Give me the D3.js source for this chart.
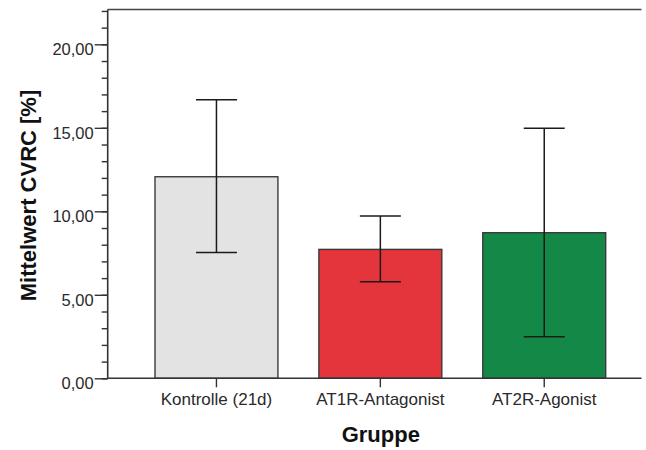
<!DOCTYPE html>
<html>
<head>
<meta charset="utf-8">
<script src="https://cdn.jsdelivr.net/npm/d3@7"></script>
<style>
  html, body { margin: 0; padding: 0; background: #fff; }
  svg { display: block; font-family: "Liberation Sans", Arial, sans-serif; }
</style>
</head>
<body>
<svg id="chart" width="646" height="450"></svg>
<script>
// Group means of CVRC [%] with error-bar limits
const categories = ["Kontrolle (21d)", "AT1R-Antagonist", "AT2R-Agonist"];
const means = [12.07, 7.72, 8.72];
const lower = [7.54, 5.78, 2.49];
const upper = [16.68, 9.72, 14.97];
const colors = ["#e3e3e3", "#e4343c", "#138847"];
const majorTicks = [0, 5, 10, 15, 20];
const minorTicks = d3.range(0, 23, 1);

const svg = d3.select("#chart");

const plotLeft = 107.7, plotRight = 641.5, plotTop = 9.6, plotBottom = 378.3;

const y = d3.scaleLinear().domain([0, 22.08]).range([plotBottom, plotTop]);
const x = d3.scaleBand()
  .domain(categories)
  .range([155, 605.7])
  .paddingInner(0.25)
  .paddingOuter(0);

const fmt = v => d3.format(".2f")(v).replace(".", ",");

// plot frame top edge
svg.append("line")
  .attr("x1", plotLeft).attr("x2", plotRight).attr("y1", plotTop).attr("y2", plotTop)
  .attr("stroke", "#444").attr("stroke-width", 1.5);

// bars
const data = categories.map((c, i) => ({ c, m: means[i], lo: lower[i], hi: upper[i], col: colors[i] }));
svg.append("g").selectAll("rect").data(data).join("rect")
  .attr("x", d => x(d.c))
  .attr("width", x.bandwidth())
  .attr("y", d => y(d.m))
  .attr("height", d => y(0) - y(d.m))
  .attr("fill", d => d.col)
  .attr("stroke", "#3a3a3a")
  .attr("stroke-width", 1.4);

// error bars
const capHalf = x.bandwidth() / 6;
const eb = svg.append("g").attr("stroke", "#1a1a1a").attr("stroke-width", 1.5);
data.forEach(d => {
  const cx = x(d.c) + x.bandwidth() / 2;
  eb.append("line").attr("x1", cx).attr("x2", cx).attr("y1", y(d.hi)).attr("y2", y(d.lo));
  eb.append("line").attr("x1", cx - capHalf).attr("x2", cx + capHalf).attr("y1", y(d.hi)).attr("y2", y(d.hi));
  eb.append("line").attr("x1", cx - capHalf).attr("x2", cx + capHalf).attr("y1", y(d.lo)).attr("y2", y(d.lo));
});

// y axis: minor ticks
const yMinor = svg.append("g").attr("transform", `translate(${plotLeft},0)`)
  .call(d3.axisLeft(y).tickValues(minorTicks).tickSize(6).tickFormat(""));
yMinor.select(".domain").remove();
yMinor.selectAll(".tick line").attr("stroke", "#333").attr("stroke-width", 1.4);

// y axis: major ticks with labels
const yAxis = svg.append("g").attr("transform", `translate(${plotLeft},0)`)
  .call(d3.axisLeft(y).tickValues(majorTicks).tickSize(13).tickPadding(1).tickFormat(fmt));
yAxis.select(".domain").attr("stroke", "#333").attr("stroke-width", 1.6)
  .attr("d", `M0,${plotBottom}V${plotTop}`);
yAxis.selectAll(".tick line").attr("stroke", "#333").attr("stroke-width", 1.4);
yAxis.selectAll(".tick text")
  .attr("font-size", "16.5px")
  .attr("fill", "#2a2a2a")
  .attr("dy", "0.62em")
  .style("font-family", "'Liberation Sans', Arial, sans-serif");

// x axis
const xAxis = svg.append("g").attr("transform", `translate(0,${plotBottom})`)
  .call(d3.axisBottom(x).tickSize(9).tickPadding(6));
xAxis.select(".domain").attr("stroke", "#333").attr("stroke-width", 1.6)
  .attr("d", `M${plotLeft},0H${plotRight}`);
xAxis.selectAll(".tick line").attr("stroke", "#333").attr("stroke-width", 1.4);
xAxis.selectAll(".tick text")
  .attr("font-size", "17px")
  .attr("fill", "#2a2a2a")
  .style("font-family", "'Liberation Sans', Arial, sans-serif");

// axis titles
svg.append("text")
  .attr("x", 380.8).attr("y", 442)
  .attr("text-anchor", "middle")
  .attr("font-size", "22px").attr("font-weight", "bold").attr("fill", "#111")
  .text("Gruppe");

svg.append("text")
  .attr("transform", "translate(36,195.5) rotate(-90)")
  .attr("text-anchor", "middle")
  .attr("font-size", "22px").attr("font-weight", "bold").attr("fill", "#111")
  .text("Mittelwert CVRC [%]");
</script>
</body>
</html>
